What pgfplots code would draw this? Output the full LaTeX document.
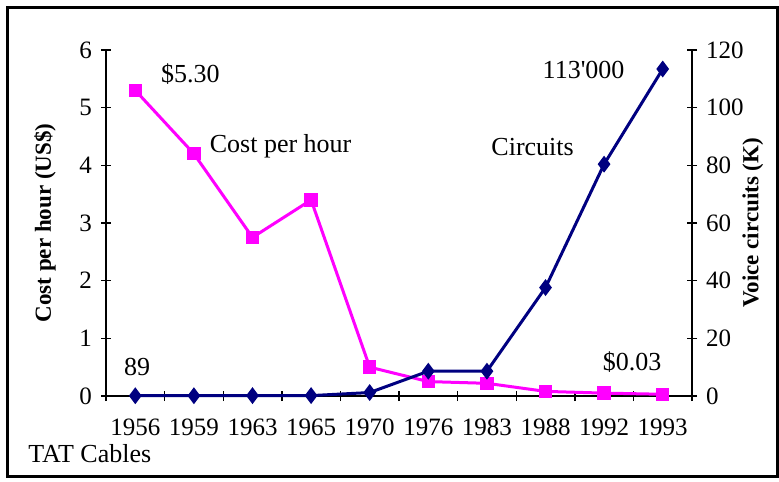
\documentclass[border=0pt]{standalone}
\usepackage{pgfplots}
\pgfplotsset{compat=1.18}
\usepackage{fontspec}
\setmainfont{Liberation Serif}
\definecolor{mag}{RGB}{255,0,255}
\definecolor{nav}{RGB}{0,0,128}
\begin{document}
\fontsize{13}{15}\selectfont
\begin{tikzpicture}
\pgfplotsset{
  base/.style={scale only axis, width=293pt, height=173pt, xmin=-0.5, xmax=9.5,
    font=\fontsize{12.5}{14}\selectfont,
    /pgf/number format/assume math mode=true,
    tick align=center, major tick length=5pt, minor tick length=5pt,
    tick style={black, line width=0.7pt}, axis line style={black, line width=0.8pt},
    clip=false}
}
\begin{axis}[base, axis x line*=bottom, axis y line*=left,
  ymin=0, ymax=6, ytick={0,1,...,6},
  xtick={0,...,9},
  xticklabels={1956,1959,1963,1965,1970,1976,1983,1988,1992,1993},
  major x tick style={draw=none},
  minor xtick={-0.5,0.5,...,9.5},
  xticklabel style={yshift=-4.5pt},
  ylabel={Cost per hour (US\$)},
  ylabel style={at={(axis description cs:-0.104,0.5)}, anchor=center, font=\bfseries\fontsize{11.5}{13}\selectfont},
]
\coordinate (O) at (rel axis cs:0,0);
\addplot[mag, line width=1.5pt, mark=square*, mark size=2.6pt, mark options={solid}]
  coordinates {(0,5.3)(1,4.2)(2,2.75)(3,3.4)(4,0.5)(5,0.25)(6,0.22)(7,0.08)(8,0.05)(9,0.03)};
\node[font=\fontsize{13}{15}\selectfont] at (axis cs:0.94,5.58) {\$5.30};
\node[font=\fontsize{13}{15}\selectfont] at (axis cs:2.48,4.33) {Cost per hour};
\node[font=\fontsize{13}{15}\selectfont] at (axis cs:6.78,4.31) {Circuits};
\node[font=\fontsize{13}{15}\selectfont] at (axis cs:7.65,5.65) {113\textquotesingle000};
\node[font=\fontsize{13}{15}\selectfont] at (axis cs:0.03,0.5) {89};
\node[font=\fontsize{13}{15}\selectfont] at (axis cs:8.48,0.59) {\$0.03};
\end{axis}
\begin{axis}[base, axis x line=none, axis y line*=right,
  ymin=0, ymax=120, ytick={0,20,...,120},
  ylabel={Voice circuits (K)},
  ylabel style={at={(axis description cs:1.104,0.5)}, anchor=center, font=\bfseries\fontsize{11.5}{13}\selectfont},
]
\addplot[nav, line width=1.5pt, mark=diamond*, mark size=3pt, mark options={solid}]
  coordinates {(0,0.089)(1,0.1)(2,0.14)(3,0.14)(4,1.2)(5,8.6)(6,8.6)(7,37.6)(8,80.4)(9,113.4)};
\end{axis}
\node[anchor=west, inner sep=0pt] at ([shift={(-39pt,-29pt)}]O) {TAT Cables};
\draw[line width=1.5pt] ([shift={(-49pt,-40pt)}]O) rectangle ([shift={(335.5pt,194pt)}]O);
\useasboundingbox ([shift={(-53pt,-42.5pt)}]O) rectangle ([shift={(336.5pt,198pt)}]O);
\end{tikzpicture}
\end{document}
